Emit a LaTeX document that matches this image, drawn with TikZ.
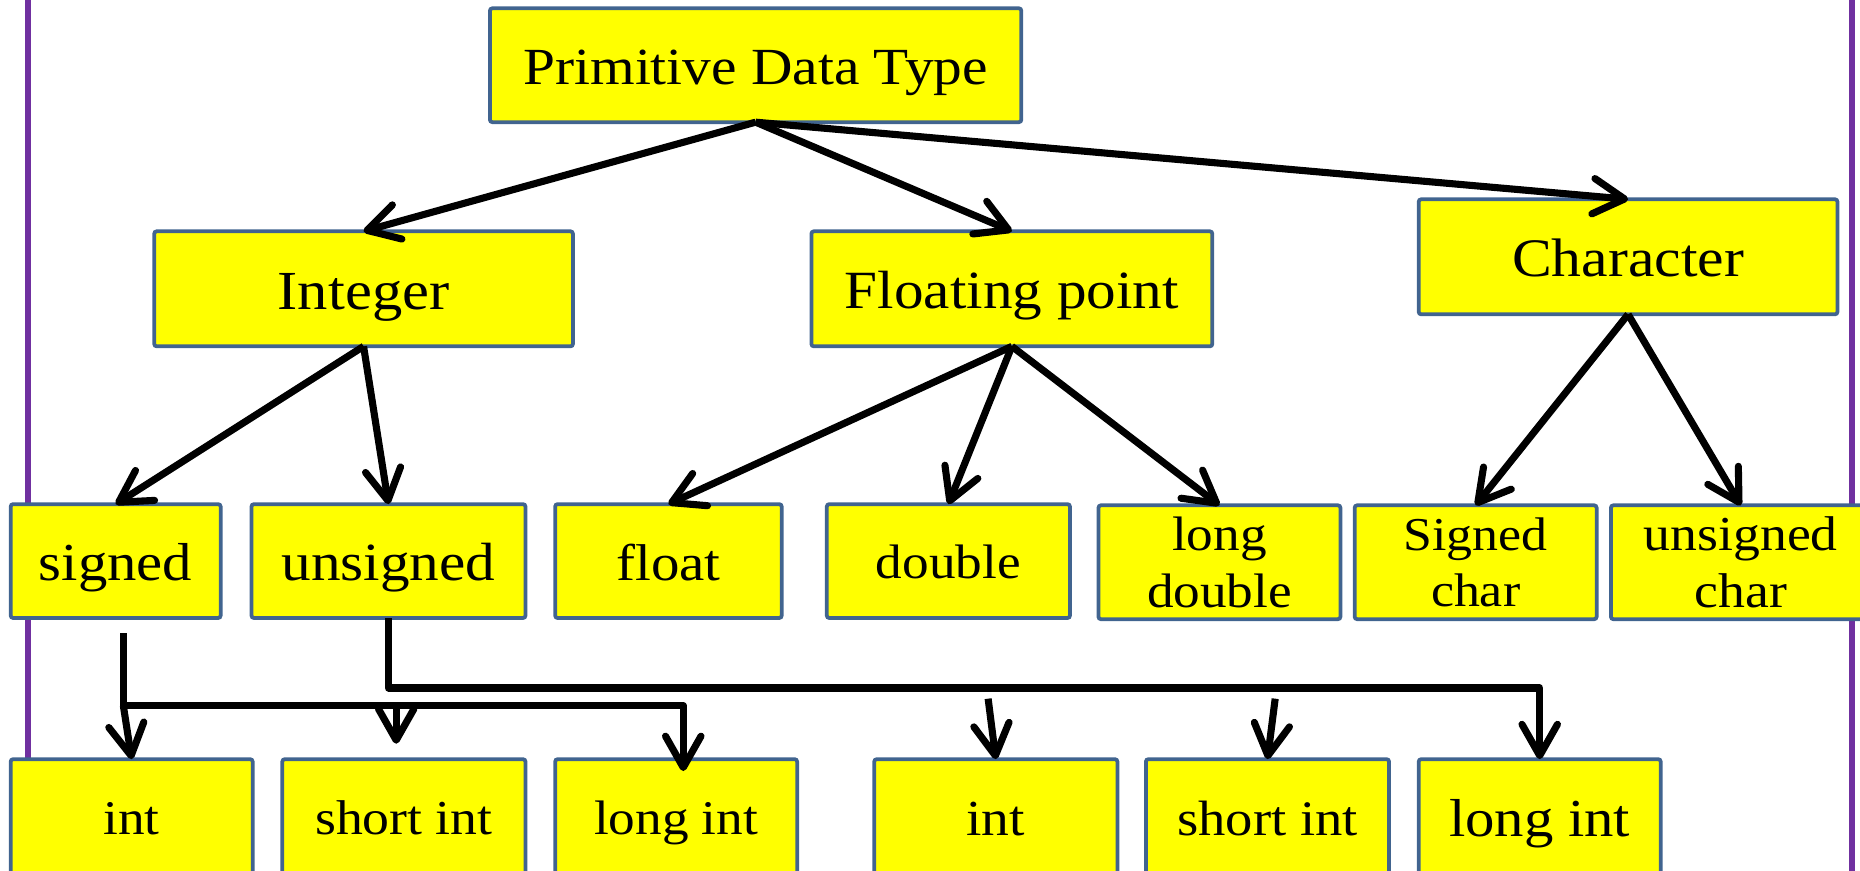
\documentclass[tikz,border=0pt]{standalone}
\usepackage{fontspec}
\setmainfont{Liberation Serif}[FakeStretch=1.1]
\usetikzlibrary{arrows.meta,calc}
\definecolor{boxfill}{HTML}{FFFF00}
\definecolor{boxline}{HTML}{41648F}
\definecolor{siderule}{HTML}{7030A0}

\begin{document}
\begin{tikzpicture}[x=0.01cm,y=-0.01cm,
  box/.style={draw=boxline, fill=boxfill, line width=0.9pt, rounded corners=0.6pt,
              inner sep=0pt, outer sep=0pt, align=center, text=black},
  sz/.style 2 args={minimum width=#1*0.01cm, minimum height=#2*0.01cm},
  % two-line labels
  fs/.style={font=\fontsize{#1pt}{13.6pt}\selectfont},
  % one-line labels: fixed height so every baseline sits alike
  f1/.style={font=\fontsize{#1pt}{13.6pt}\selectfont, text height=#1*0.74pt, text depth=0pt},
  conn/.style={draw=black, line width=1.7pt, line join=round},
  arr/.style={conn, -{Straight Barb[length=7.5pt,width=8.5pt,round]}},
  rulestyle/.style={draw=siderule, line width=1.4pt}]

  \useasboundingbox (0,0) rectangle (1568,734);
  \clip (0,0) rectangle (1568,734);

  % vertical side rules of the slide frame
  \draw[rulestyle] (23.5,0) -- (23.5,734);
  \draw[rulestyle] (1561,0) -- (1561,734);

  % root
  \node[box,sz={448}{96},f1=12.5] (pdt) at (637,55) {Primitive Data Type};

  % first level
  \node[box,sz={353}{97},f1=13.2] (integer)   at (306.5,243.5) {Integer};
  \node[box,sz={338}{97},f1=12.9] (floating)  at (853,243.5)   {Floating point};
  \node[box,sz={353}{97},f1=13]   (character) at (1372.5,216.5) {Character};

  % second level
  \node[box,sz={177}{96},f1=12.8] (signed)       at (97.5,473)  {signed};
  \node[box,sz={231}{96},f1=12.9] (unsigned)     at (327.5,473) {unsigned};
  \node[box,sz={191}{96},f1=12.4] (float)        at (563.5,473) {float};
  \node[box,sz={205}{96},f1=11.6] (double)       at (799.5,473) {double};
  \node[box,sz={204}{96},fs=11.6] (longdouble)   at (1028,474)  {long\\double};
  \node[box,sz={204}{96},fs=11.3] (signedchar)   at (1244,474)  {Signed\\char};
  \node[box,sz={219}{96},fs=11.7] (unsignedchar) at (1467.5,474) {unsigned\\char};

  % third level
  \node[box,sz={204}{97},f1=11.6] (intA)      at (111,688.5)   {int};
  \node[box,sz={205}{97},f1=11.7] (shortintA) at (340.5,688.5) {short int};
  \node[box,sz={204}{97},f1=11.6] (longintA)  at (570,688.5)   {long int};
  \node[box,sz={205}{97},f1=12.1] (intB)      at (839.5,688.5) {int};
  \node[box,sz={205}{97},f1=11.9] (shortintB) at (1068.5,688.5) {short int};
  \node[box,sz={204}{97},f1=12.8] (longintB)  at (1298,688.5)  {long int};

  % tree connectors
  \draw[arr] (pdt.south) -- (integer.north);
  \draw[arr] (pdt.south) -- (floating.north);
  \draw[arr] (pdt.south) -- (character.north);

  \draw[arr] (integer.south) -- (signed.north);
  \draw[arr] (integer.south) -- (unsigned.north);

  \draw[arr] (floating.south) -- (float.north);
  \draw[arr] (floating.south) -- (double.north);
  \draw[arr] (floating.south) -- (longdouble.north);

  \draw[arr] (character.south) -- (signedchar.north);
  \draw[arr] (character.south) -- (unsignedchar.north);

  % signed branch: bus bar to int, short int, long int
  \coordinate (sTop) at (104,534);
  \coordinate (sBar) at (104,595);
  \coordinate (sEnd) at (576,595);
  \coordinate (sEndTip) at (576,650);
  \coordinate (sMid) at (334,597);
  \coordinate (sMidTip) at (334,627);
  \draw[arr] (sTop) -- (sBar) -- (sEnd) -- (sEndTip);
  \draw[arr] (sBar) -- (intA.north);
  \draw[arr] (sMid) -- (sMidTip);

  % unsigned branch: bus bar to int, short int, long int
  \coordinate (uEnd) at (1298,580);
  \coordinate (uInt) at (833,589);
  \coordinate (uShort) at (1075,589);
  \draw[arr] (unsigned.south) |- (uEnd) -- (longintB.north);
  \draw[arr] (uInt) -- (intB.north);
  \draw[arr] (uShort) -- (shortintB.north);
\end{tikzpicture}
\end{document}
